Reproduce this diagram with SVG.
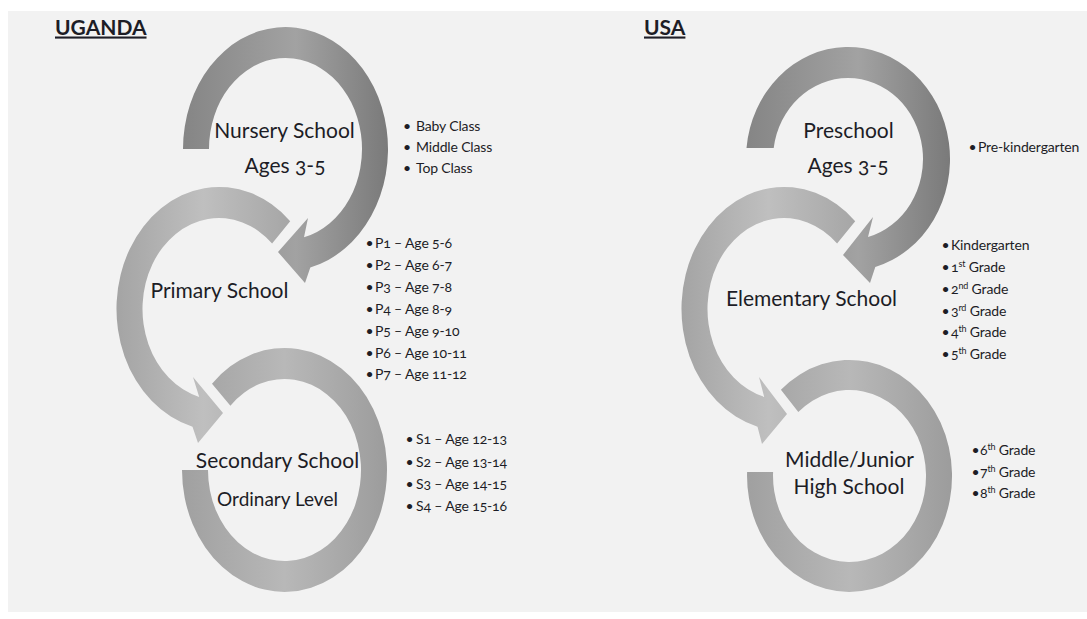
<svg xmlns="http://www.w3.org/2000/svg" width="1087" height="619" viewBox="0 0 1087 619">
  <defs>
    <linearGradient id="gDark" x1="0" y1="0" x2="1" y2="0">
      <stop offset="0" stop-color="#858585"/>
      <stop offset="0.55" stop-color="#a2a2a2"/>
      <stop offset="1" stop-color="#7a7a7a"/>
    </linearGradient>
    <linearGradient id="gLight" x1="0" y1="0" x2="1" y2="0">
      <stop offset="0" stop-color="#a4a4a4"/>
      <stop offset="0.5" stop-color="#bfbfbf"/>
      <stop offset="1" stop-color="#a6a6a6"/>
    </linearGradient>
    <linearGradient id="gMid" x1="0" y1="0" x2="1" y2="0">
      <stop offset="0" stop-color="#a0a0a0"/>
      <stop offset="0.5" stop-color="#b8b8b8"/>
      <stop offset="1" stop-color="#9c9c9c"/>
    </linearGradient>
    <style>
      .lbl { font-family: Lato, "Open Sans", "Liberation Sans", sans-serif; font-size: 21px; fill: #1d1d26; text-anchor: middle; font-variant-numeric: oldstyle-nums; }
      .li { font-family: Lato, "Open Sans", "Liberation Sans", sans-serif; font-size: 14px; letter-spacing: -0.15px; fill: #1d1d26; font-variant-numeric: oldstyle-nums; }
      .ttl { font-family: Lato, "Open Sans", "Liberation Sans", sans-serif; font-size: 21px; font-weight: bold; fill: #1d1d26; text-decoration: underline; }
      .sup { font-size: 9px; }
      .r1 { fill: url(#gDark); }
      .r2 { fill: url(#gLight); }
      .r3 { fill: url(#gMid); }
    </style>
  </defs>

  <rect x="0" y="0" width="1087" height="619" fill="#ffffff"/>
  <rect x="8" y="11" width="1079" height="601" fill="#f2f2f2"/>

  <g id="title-uganda"><text class="ttl" x="55" y="34.5">UGANDA</text></g>
  <g id="title-usa"><text class="ttl" x="644" y="34.5">USA</text></g>

  <g id="connectors">
    <!-- circular arrows form the flow between stages; shapes are inside the stage groups -->
  </g>

  <!-- UGANDA -->
  <g id="ug-nursery">
    <path class="r1" d="M183,149 A102.5,122 0 1 1 310.3,267.4 L305,283 L278,252 L308,218 L304,237.3 A76.5,91 0 1 0 209,149 Z"/>
    <text class="lbl" x="284.5" y="138">Nursery School</text>
    <text class="lbl" x="285" y="173">Ages 3-5</text>
  </g>
  <g id="ug-nursery-list">
    <text class="li" y="131"><tspan x="403">•</tspan><tspan x="416">Baby Class</tspan></text>
    <text class="li" y="152"><tspan x="403">•</tspan><tspan x="416">Middle Class</tspan></text>
    <text class="li" y="173"><tspan x="403">•</tspan><tspan x="416">Top Class</tspan></text>
  </g>

  <g id="ug-primary">
    <path class="r2" d="M290.2,221.2 A102.5,122 0 1 0 192.5,426.8 L198,443 L223,413 L193,377 L199.2,396.9 A76.5,91 0 1 1 272.1,243.5 Z"/>
    <text class="lbl" x="219.5" y="298">Primary School</text>
  </g>
  <g id="ug-primary-list">
    <text class="li" y="248.3"><tspan x="365.5">•</tspan><tspan x="375">P1 – Age 5-6</tspan></text>
    <text class="li" y="270.3"><tspan x="365.5">•</tspan><tspan x="375">P2 – Age 6-7</tspan></text>
    <text class="li" y="292.3"><tspan x="365.5">•</tspan><tspan x="375">P3 – Age 7-8</tspan></text>
    <text class="li" y="314.3"><tspan x="365.5">•</tspan><tspan x="375">P4 – Age 8-9</tspan></text>
    <text class="li" y="336"><tspan x="365.5">•</tspan><tspan x="375">P5 – Age 9-10</tspan></text>
    <text class="li" y="357.7"><tspan x="365.5">•</tspan><tspan x="375">P6 – Age 10-11</tspan></text>
    <text class="li" y="379.3"><tspan x="365.5">•</tspan><tspan x="375">P7 – Age 11-12</tspan></text>
  </g>

  <g id="ug-secondary">
    <path class="r3" d="M212,383.7 A102.5,122 0 1 1 182,470 L208,470 A76.5,91 0 1 0 230.4,405.7 Z"/>
    <text class="lbl" x="277.5" y="468">Secondary School</text>
    <text class="lbl" x="277.5" y="506" style="font-size:19px">Ordinary Level</text>
  </g>
  <g id="ug-secondary-list">
    <text class="li" y="444.3"><tspan x="405.5">•</tspan><tspan x="416">S1 – Age 12-13</tspan></text>
    <text class="li" y="467.3"><tspan x="405.5">•</tspan><tspan x="416">S2 – Age 13-14</tspan></text>
    <text class="li" y="489.3"><tspan x="405.5">•</tspan><tspan x="416">S3 – Age 14-15</tspan></text>
    <text class="li" y="511"><tspan x="405.5">•</tspan><tspan x="416">S4 – Age 15-16</tspan></text>
  </g>

  <!-- USA -->
  <g id="us-preschool">
    <path class="r1" d="M746.5,148 A102,112 0 1 1 875.3,266.9 L870,283 L843,255 L873,217 L868,237.1 A75,81 0 1 0 773.7,148 Z"/>
    <text class="lbl" x="848.5" y="138">Preschool</text>
    <text class="lbl" x="848" y="173">Ages 3-5</text>
  </g>
  <g id="us-preschool-list">
    <text class="li" y="152"><tspan x="968.5">•</tspan><tspan x="978">Pre-kindergarten</tspan></text>
  </g>

  <g id="us-elementary">
    <path class="r2" d="M855.2,221.2 A102.5,122 0 1 0 757.5,426.8 L762,444 L787,414 L759,377 L764.2,396.9 A76.5,91 0 1 1 837.1,243.5 Z"/>
    <text class="lbl" x="811.5" y="306">Elementary School</text>
  </g>
  <g id="us-elementary-list">
    <text class="li" y="249.5"><tspan x="941.5">•</tspan><tspan x="951">Kindergarten</tspan></text>
    <text class="li" y="272"><tspan x="941.5">•</tspan><tspan x="951">1<tspan class="sup" dy="-5">st</tspan><tspan dy="5"> Grade</tspan></tspan></text>
    <text class="li" y="294"><tspan x="941.5">•</tspan><tspan x="951">2<tspan class="sup" dy="-5">nd</tspan><tspan dy="5"> Grade</tspan></tspan></text>
    <text class="li" y="315.7"><tspan x="941.5">•</tspan><tspan x="951">3<tspan class="sup" dy="-5">rd</tspan><tspan dy="5"> Grade</tspan></tspan></text>
    <text class="li" y="337.3"><tspan x="941.5">•</tspan><tspan x="951">4<tspan class="sup" dy="-5">th</tspan><tspan dy="5"> Grade</tspan></tspan></text>
    <text class="li" y="359"><tspan x="941.5">•</tspan><tspan x="951">5<tspan class="sup" dy="-5">th</tspan><tspan dy="5"> Grade</tspan></tspan></text>
  </g>

  <g id="us-middle">
    <path class="r3" d="M780.9,389.8 A102.5,116 0 1 1 747.1,472 L773.1,472 A76.5,86 0 1 0 798.3,412.1 Z"/>
    <text class="lbl" x="849.5" y="467">Middle/Junior</text>
    <text class="lbl" x="849" y="494">High School</text>
  </g>
  <g id="us-middle-list">
    <text class="li" y="455"><tspan x="971.5">•</tspan><tspan x="980">6<tspan class="sup" dy="-5">th</tspan><tspan dy="5"> Grade</tspan></tspan></text>
    <text class="li" y="477"><tspan x="971.5">•</tspan><tspan x="980">7<tspan class="sup" dy="-5">th</tspan><tspan dy="5"> Grade</tspan></tspan></text>
    <text class="li" y="498"><tspan x="971.5">•</tspan><tspan x="980">8<tspan class="sup" dy="-5">th</tspan><tspan dy="5"> Grade</tspan></tspan></text>
  </g>
</svg>
